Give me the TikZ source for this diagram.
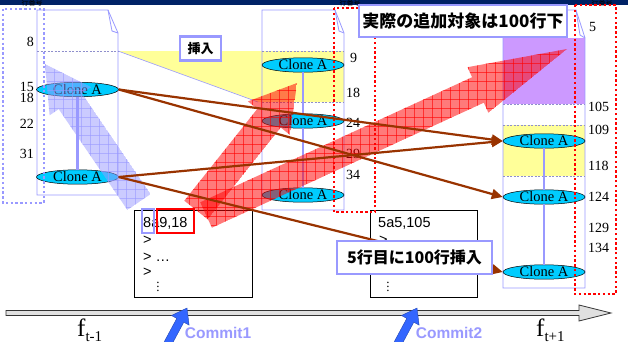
\documentclass[tikz,border=0pt]{standalone}
\usepackage{fontspec}
\setmainfont{Liberation Serif}
\setsansfont{Liberation Sans}
\newfontfamily\jp{Noto Sans CJK JP}
\usetikzlibrary{arrows.meta,shapes.geometric}
\definecolor{lav}{HTML}{9999FF}
\definecolor{cyanc}{HTML}{00CCFF}
\definecolor{brn}{HTML}{993300}
\definecolor{navy}{HTML}{002266}
\definecolor{ylw}{HTML}{FFFF99}
\definecolor{purp}{HTML}{CC99FF}
\definecolor{cblue}{HTML}{3366FF}
\newcommand\hatcharrow[3]{%
  \begin{scope}
    \clip #3;
    \fill[#1,opacity=#2] #3;
    \foreach \gx in {0,9,...,630} \draw[#1,opacity=.6,line width=.5pt] (\gx,0)--(\gx,341);
    \foreach \gy in {0,9,...,345} \draw[#1,opacity=.6,line width=.5pt] (0,\gy)--(630,\gy);
  \end{scope}}
\tikzset{
  page/.style={draw=lav,line width=.8pt},
  sep/.style={draw=lav!60!gray,line width=.5pt,dash pattern=on 2pt off 1.5pt},
  clone/.style={ellipse,draw=black,line width=.5pt,fill=cyanc,minimum width=82pt,minimum height=14pt,inner sep=0pt,font=\fontsize{14.5}{14.5}\selectfont},
  numl/.style={font=\fontsize{14}{14}\selectfont,inner sep=0pt},
  vlink/.style={draw=lav,line width=2.5pt},
  link/.style={draw=brn,line width=2.2pt,-{Triangle[length=11pt,width=10pt]}},
  reddots/.style={draw=red,line width=2.4pt,dash pattern=on 2.4pt off 2.4pt},
  lavdots/.style={draw=lav,line width=2.4pt,dash pattern=on 2.4pt off 2.4pt},
  lbl/.style={draw=lav,line width=2.8pt,fill=white,inner sep=0pt},
  diffbox/.style={draw=black,line width=.9pt,fill=white},
  difftxt/.style={font=\sffamily\fontsize{14.5}{14.5}\selectfont,inner sep=0pt,anchor=west},
  commitlbl/.style={font=\sffamily\bfseries\fontsize{15.5}{15.5}\selectfont,text=lav,inner sep=0pt},
  commitarr/.style={fill=cblue,draw=cblue!70!black,line width=.4pt},
  smalltag/.style={font=\jp\fontsize{7}{7}\selectfont,text=black,inner sep=0pt}
}
\begin{document}
\begin{tikzpicture}[x=1pt,y=-1pt]
\useasboundingbox (0,0) rectangle (628,341);
\fill[white] (0,0) rectangle (628,341);
% top bar
\fill[navy] (0,0) rectangle (628,5);
\node[smalltag] (tag1) at (32,3) {行番号};
\node[smalltag] (tag2) at (350,3) {行番号};
\node[smalltag] (tag3) at (602,3) {行番号};
% coloured regions
\fill[ylw] (118,51) -- (344,51) -- (344,102) -- (258,102) -- cycle;
\draw[lav,line width=.6pt] (118,51) -- (258,102);
\fill[purp] (503,38) rectangle (585,104);
\fill[ylw] (503,125) rectangle (585,176);
% pages
\draw[page] (37,10) -- (108,10) -- (118,33) -- (118,195) -- (37,195) -- cycle;
\draw[page] (108,10) -- (112,31) -- (118,33);
\draw[page] (262,10) -- (335,10) -- (344,33) -- (344,210) -- (262,210) -- cycle;
\draw[page] (335,10) -- (339,31) -- (344,33);
\draw[page] (503,10) -- (576,10) -- (585,38) -- (585,288) -- (503,288) -- cycle;
\draw[page] (576,10) -- (580,35) -- (585,38);
\draw[sep] (37,51) -- (118,51);
\draw[sep] (262,51) -- (344,51);
\draw[sep] (262,102) -- (344,102);
\draw[sep] (503,104) -- (585,104);
\draw[sep] (503,125) -- (585,125);
\draw[sep] (503,176) -- (585,176);
% line numbers
\node[numl,anchor=east] (n8) at (34,42) {8};
\node[numl,anchor=east] (n15) at (34,87) {15};
\node[numl,anchor=east] (n18) at (34,98) {18};
\node[numl,anchor=east] (n22) at (34,124) {22};
\node[numl,anchor=east] (n31) at (34,154) {31};
\node[numl,anchor=west] (m9) at (350,58) {9};
\node[numl,anchor=west] (m18) at (346,93) {18};
\node[numl,anchor=west] (m24) at (346,123) {24};
\node[numl,anchor=west] (m29) at (346,154) {29};
\node[numl,anchor=west] (m34) at (346,175) {34};
\node[numl,anchor=west] (r5) at (589,27) {5};
\node[numl,anchor=west] (r105) at (588,107) {105};
\node[numl,anchor=west] (r109) at (588,130) {109};
\node[numl,anchor=west] (r118) at (588,166) {118};
\node[numl,anchor=west] (r124) at (588,197) {124};
\node[numl,anchor=west] (r129) at (588,228) {129};
\node[numl,anchor=west] (r134) at (588,248) {134};
% clones
\node[clone] (c1a) at (77.5,89.5) {Clone A};
\node[clone] (c1b) at (77.5,177) {Clone A};
\node[clone] (c2a) at (303,65) {Clone A};
\node[clone] (c2b) at (303,121) {Clone A};
\node[clone] (c2c) at (303,195) {Clone A};
\node[clone] (c3a) at (544,141) {Clone A};
\node[clone] (c3b) at (544,197) {Clone A};
\node[clone] (c3c) at (544,272) {Clone A};
\draw[vlink] (c1a.south) -- (c1b.north);
\draw[vlink] (c2a.south) -- (c2b.north);
\draw[vlink] (c2b.south) -- (c2c.north);
\draw[vlink] (c3a.south) -- (c3b.north);
\draw[vlink] (c3b.south) -- (c3c.north);
% diff boxes
\node[diffbox,minimum width=118pt,minimum height=87pt,anchor=north west] (d1) at (134,210) {};
\node[difftxt] (d1l1) at (143,223) {8a9,18};
\node[difftxt] (d1l2) at (143,240) {>};
\node[difftxt] (d1l3) at (143,257) {> \dots};
\node[difftxt] (d1l4) at (143,272) {>};
\node[inner sep=0pt,font=\fontsize{13}{13}\selectfont] (d1l5) at (158,284) {$\vdots$};
\draw[lav,line width=2pt] (142,209) rectangle (154,233);
\draw[red,line width=2pt] (157,209) rectangle (194,233);
\node[diffbox,minimum width=107pt,minimum height=87pt,anchor=north west] (d2) at (370,210) {};
\node[difftxt] (d2l1) at (378,223) {5a5,105};
\node[difftxt] (d2l2) at (379,240) {>};
\node[inner sep=0pt,font=\fontsize{13}{13}\selectfont] (d2l5) at (388,284) {$\vdots$};
% hatched arrows
\hatcharrow{lav}{.5}{(127.4,209.9) -- (58.7,109.1) -- (49.6,115.3) -- (45,64) -- (91,87.1) -- (81.9,93.3) -- (150.6,194.1) -- cycle}
\hatcharrow{red}{.52}{(184.3,200.7) -- (257.3,108.9) -- (247.9,101.4) -- (297,83) -- (290.1,135) -- (280.7,127.5) -- (207.7,219.3) -- cycle}
\hatcharrow{red}{.52}{(200.2,202.3) -- (472.1,77.2) -- (467.5,67.2) -- (567,49) -- (488.4,112.7) -- (483.8,102.7) -- (211.9,227.7) -- cycle}
% dotted boxes
\draw[lavdots] (3,9) rectangle (44,203);
\draw[reddots] (334,8) rectangle (375,212);
\draw[reddots] (575,5) rectangle (616,294);
% links
\draw[link] (c1a.east) -- (c3a.west);
\draw[link] (c1a.east) -- (c3b.west);
\draw[link] (c1b.east) -- (c3a.west);
\draw[link] (c1b.east) -- (c3c.west);
% labels
\node[lbl,minimum width=41pt,minimum height=24pt,font=\jp\bfseries\fontsize{13}{13}\selectfont] (ins) at (200.5,48.5) {挿入};
\node[lbl,minimum width=208pt,minimum height=32pt,font=\jp\bfseries\fontsize{17}{17}\selectfont] (real) at (463,21) {実際の追加対象は100行下};
\node[lbl,minimum width=155pt,minimum height=33pt,font=\jp\bfseries\fontsize{16}{16}\selectfont] (five) at (414.5,257.5) {5行目に100行挿入};
% timeline
\filldraw[fill=black!12,draw=black!80,line width=.8pt] (6,310.5) -- (579,310.5) -- (579,305) -- (611,313) -- (579,321) -- (579,315.5) -- (6,315.5) -- cycle;
% commits
\filldraw[commitarr] (163.5,343.1) -- (176.8,318.4) -- (171.5,315.5) -- (187,308) -- (189.1,325.1) -- (183.8,322.2) -- (170.5,346.9) -- cycle;
\filldraw[commitarr] (393.5,343.1) -- (406.8,318.4) -- (401.5,315.5) -- (417,308) -- (419.1,325.1) -- (413.8,322.2) -- (400.5,346.9) -- cycle;
\node[commitlbl] (cm1) at (218,333) {Commit1};
\node[commitlbl] (cm2) at (449,333) {Commit2};
\node[anchor=base west,inner sep=0pt] (ft1) at (77,336) {\fontsize{25}{25}\selectfont f\raisebox{-5pt}{\fontsize{15}{15}\selectfont t-1}};
\node[anchor=base west,inner sep=0pt] (ft2) at (536,336) {\fontsize{25}{25}\selectfont f\raisebox{-5pt}{\fontsize{15}{15}\selectfont t+1}};
\end{tikzpicture}
\end{document}
